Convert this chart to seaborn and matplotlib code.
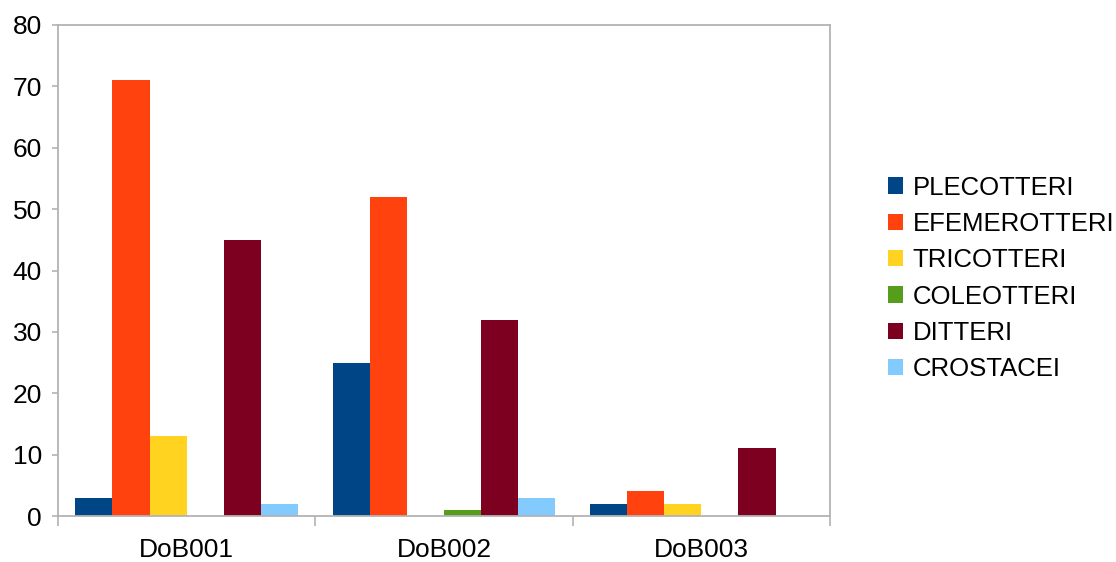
import matplotlib
matplotlib.use("Agg")
import matplotlib.pyplot as plt
from matplotlib.ticker import FixedLocator
import pandas as pd
import seaborn as sns

sites = ["DoB001", "DoB002", "DoB003"]
taxa = ["PLECOTTERI", "EFEMEROTTERI", "TRICOTTERI", "COLEOTTERI", "DITTERI", "CROSTACEI"]
plecotteri = [3, 25, 2]
efemerotteri = [71, 52, 4]
tricotteri = [13, 0, 2]
coleotteri = [0, 1, 0]
ditteri = [45, 32, 11]
crostacei = [2, 3, 0]
y_ticks = [0, 10, 20, 30, 40, 50, 60, 70, 80]

colors = ["#004586", "#ff420e", "#ffd320", "#579d1c", "#7e0021", "#83caff"]

series = [plecotteri, efemerotteri, tricotteri, coleotteri, ditteri, crostacei]
rows = []
for taxon, vals in zip(taxa, series):
    for site, v in zip(sites, vals):
        rows.append({"site": site, "taxon": taxon, "count": v})
df = pd.DataFrame(rows)

sns.set_theme(style="white")
plt.rcParams["font.family"] = ["Liberation Sans", "DejaVu Sans"]
plt.rcParams["text.color"] = "black"

fig = plt.figure(figsize=(11.16, 5.62), dpi=100)
ax = fig.add_axes([58 / 1116, 1 - 516 / 562, (830 - 58) / 1116, (516 - 25) / 562])

sns.barplot(data=df, x="site", y="count", hue="taxon", hue_order=taxa,
            order=sites, palette=colors, width=0.865, saturation=1,
            gap=0, errorbar=None, ax=ax, linewidth=0)

handles, labels = ax.get_legend_handles_labels()
ax.get_legend().remove()

ax.set_xlim(-0.5, 2.5)
ax.set_ylim(0, 80)
ax.set_yticks(y_ticks)
ax.set_xlabel("")
ax.set_ylabel("")

grey = "#b3b3b3"
for sp in ax.spines.values():
    sp.set_visible(True)
    sp.set_color(grey)
    sp.set_linewidth(1.3)

fs = 19
ax.tick_params(axis="y", which="major", direction="out", length=4.5, width=1.2,
               color=grey, labelsize=fs, pad=7, left=True, labelcolor="black")
ax.tick_params(axis="x", which="major", length=0, labelsize=fs, pad=16,
               labelcolor="black")
ax.xaxis.set_minor_locator(FixedLocator([-0.5, 0.5, 1.5, 2.5]))
ax.tick_params(axis="x", which="minor", direction="out", length=7, width=1.2,
               color=grey, bottom=True)

fig.legend(handles, labels, loc="center left", bbox_to_anchor=(888 / 1116, 1 - 278.5 / 562),
           frameon=False, fontsize=18.5, handlelength=0.6, handleheight=0.6,
           handletextpad=0.35, labelspacing=0.48, borderpad=0, borderaxespad=0,
           labelcolor="black")

fig.savefig("out.png", dpi=100)
